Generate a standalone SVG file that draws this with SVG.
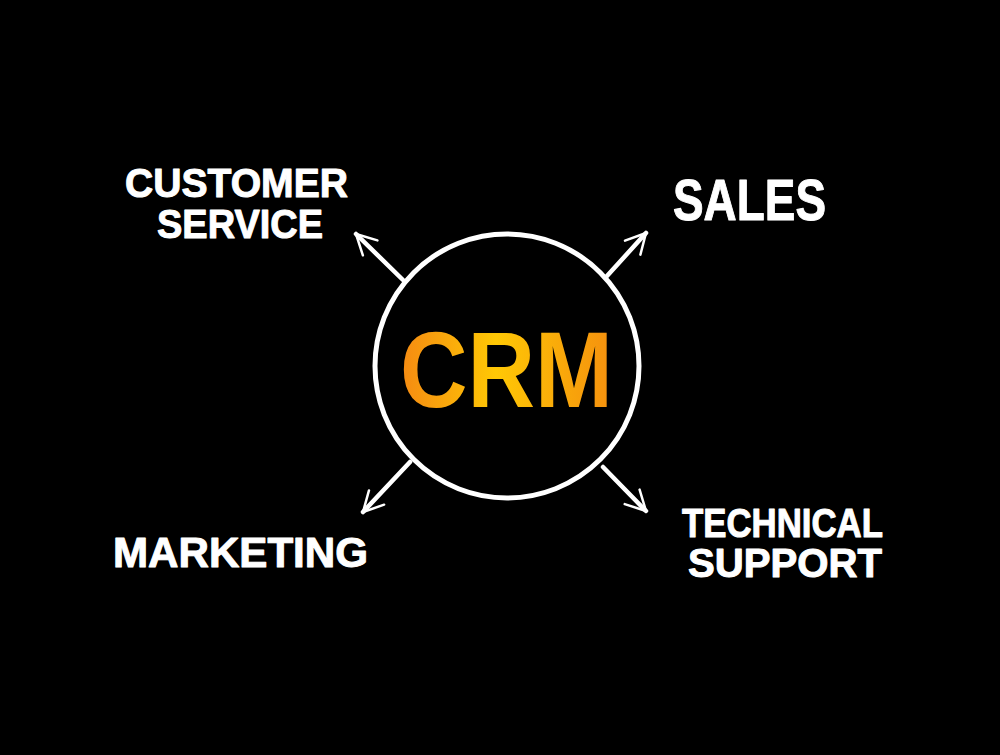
<svg xmlns="http://www.w3.org/2000/svg" width="1000" height="755" viewBox="0 0 1000 755">
<defs>
<style>
.lbl{font-family:"Liberation Sans",Arial,sans-serif;font-weight:700;fill:#fff;stroke:#fff;stroke-width:1;stroke-linejoin:round}
.conn{stroke:#fff;stroke-width:4.5;stroke-linecap:round;fill:none}
</style>
<linearGradient id="og" x1="400" y1="0" x2="613" y2="0" gradientUnits="userSpaceOnUse">
<stop offset="0" stop-color="#f58a12"/>
<stop offset="0.45" stop-color="#ffc805"/>
<stop offset="1" stop-color="#f5900e"/>
</linearGradient>
<marker id="ah" viewBox="0 0 10 10" refX="9" refY="5" markerWidth="5.5" markerHeight="5.5" markerUnits="strokeWidth" orient="auto">
<path d="M1,0.8 L9,5 L1,9.2" fill="none" stroke="#fff" stroke-width="1" stroke-linecap="round" stroke-linejoin="round"/>
</marker>
</defs>
<rect width="1000" height="755" fill="#000"/>
<g id="connectors">
<line class="conn" x1="403" y1="280" x2="356" y2="234" marker-end="url(#ah)"/>
<line class="conn" x1="607" y1="276" x2="646" y2="233" marker-end="url(#ah)"/>
<line class="conn" x1="410" y1="462" x2="363" y2="512" marker-end="url(#ah)"/>
<line class="conn" x1="603" y1="467" x2="646" y2="511" marker-end="url(#ah)"/>
</g>
<g id="crm">
<circle cx="507" cy="366" r="132" fill="#000" stroke="#fff" stroke-width="5"/>
<text x="400" y="407" font-family="'Liberation Sans',Arial,sans-serif" font-weight="700" font-size="107" fill="url(#og)" textLength="213" lengthAdjust="spacingAndGlyphs">CRM</text>
</g>
<g id="customer-service">
<text class="lbl" x="125" y="197" font-size="40" textLength="223" lengthAdjust="spacingAndGlyphs">CUSTOMER</text>
<text class="lbl" x="157" y="238" font-size="40" textLength="166" lengthAdjust="spacingAndGlyphs">SERVICE</text>
</g>
<g id="sales">
<text class="lbl" x="673" y="220" font-size="58" textLength="153" lengthAdjust="spacingAndGlyphs">SALES</text>
</g>
<g id="marketing">
<text class="lbl" x="113" y="567" font-size="42" textLength="255" lengthAdjust="spacingAndGlyphs">MARKETING</text>
</g>
<g id="technical-support">
<text class="lbl" x="682" y="537" font-size="40" textLength="201" lengthAdjust="spacingAndGlyphs">TECHNICAL</text>
<text class="lbl" x="688" y="577" font-size="40" textLength="194" lengthAdjust="spacingAndGlyphs">SUPPORT</text>
</g>
</svg>
